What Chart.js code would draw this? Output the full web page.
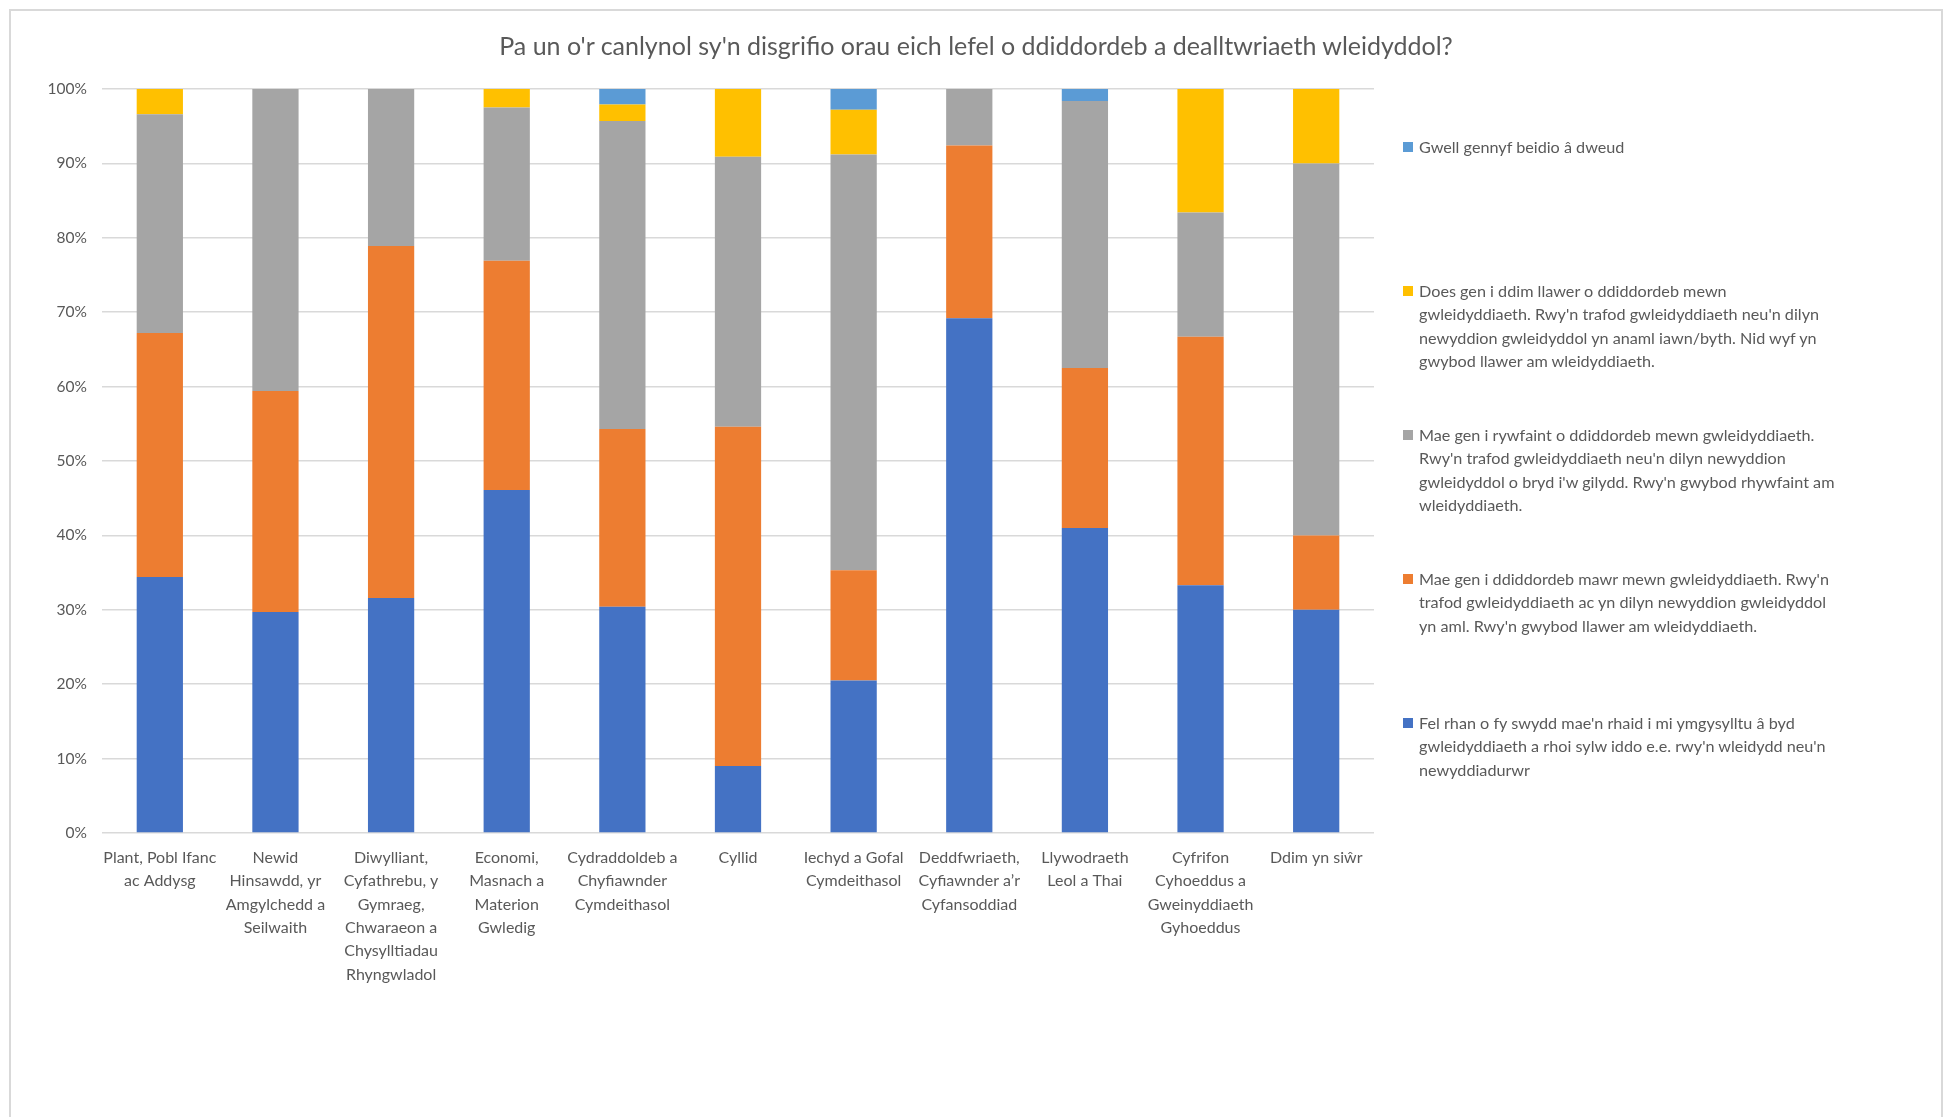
<!DOCTYPE html>
<html lang="cy">
<head>
  <meta charset="UTF-8">
  <title>Diddordeb mewn gwleidyddiaeth</title>
  <script src="https://cdn.jsdelivr.net/npm/chart.js"></script>
  <style>
    body { margin: 0; background: #fff; font-family: Lato, "Open Sans", sans-serif; }
    #frame { position: absolute; left: 9px; top: 9px; width: 1930px; height: 1200px;
             border: 2px solid #d9d9d9; border-bottom: none; }
    #wrap { position: absolute; left: 0; top: 0; width: 1945px; height: 1117px; }
    #title { position: absolute; left: 0; width: 1952px; top: 30px; text-align: center;
             color: #595959; font-size: 25px; line-height: 30px; white-space: nowrap; }
    #legend { position: absolute; left: 1403px; top: 0; width: 520px; }
    .item { position: absolute; left: 0; color: #595959; font-size: 16.2px; line-height: 23.4px; }
    .item i { position: absolute; left: 0; top: 7px; width: 10px; height: 10px; }
    .item span { display: block; padding-left: 16px; white-space: nowrap; }
  </style>
</head>
<body>
<div id="frame"></div>
<div id="wrap">
  <canvas id="chart" width="1945" height="1117"></canvas>
  <div id="title"></div>
  <div id="legend"></div>
</div>

<script>
  const title = "Pa un o'r canlynol sy'n disgrifio orau eich lefel o ddiddordeb a dealltwriaeth wleidyddol?";

  const categories = [
    ["Plant, Pobl Ifanc", "ac Addysg"],
    ["Newid", "Hinsawdd, yr", "Amgylchedd a", "Seilwaith"],
    ["Diwylliant,", "Cyfathrebu, y", "Gymraeg,", "Chwaraeon a", "Chysylltiadau", "Rhyngwladol"],
    ["Economi,", "Masnach a", "Materion", "Gwledig"],
    ["Cydraddoldeb a", "Chyfiawnder", "Cymdeithasol"],
    ["Cyllid"],
    ["Iechyd a Gofal", "Cymdeithasol"],
    ["Deddfwriaeth,", "Cyfiawnder a\u2019r", "Cyfansoddiad"],
    ["Llywodraeth", "Leol a Thai"],
    ["Cyfrifon", "Cyhoeddus a", "Gweinyddiaeth", "Gyhoeddus"],
    ["Ddim yn si\u0175r"]
  ];

  // series names, split into the lines shown in the legend
  const nameEngage = ["Fel rhan o fy swydd mae'n rhaid i mi ymgysylltu \u00e2 byd",
    "gwleidyddiaeth a rhoi sylw iddo e.e. rwy'n wleidydd neu'n",
    "newyddiadurwr"];
  const nameHigh = ["Mae gen i ddiddordeb mawr mewn gwleidyddiaeth. Rwy'n",
    "trafod gwleidyddiaeth ac yn dilyn newyddion gwleidyddol",
    "yn aml. Rwy'n gwybod llawer am wleidyddiaeth."];
  const nameSome = ["Mae gen i rywfaint o ddiddordeb mewn gwleidyddiaeth.",
    "Rwy'n trafod gwleidyddiaeth neu'n dilyn newyddion",
    "gwleidyddol o bryd i'w gilydd. Rwy'n gwybod rhywfaint am",
    "wleidyddiaeth."];
  const nameLow = ["Does gen i ddim llawer o ddiddordeb mewn",
    "gwleidyddiaeth. Rwy'n trafod gwleidyddiaeth neu'n dilyn",
    "newyddion gwleidyddol yn anaml iawn/byth. Nid wyf yn",
    "gwybod llawer am wleidyddiaeth."];
  const nameNoSay = ["Gwell gennyf beidio \u00e2 dweud"];

  // percentages
  const engage = [34.4, 29.7, 31.6, 46.1, 30.4, 9.0, 20.5, 69.2, 41.0, 33.3, 30.0];
  const high   = [32.8, 29.7, 47.3, 30.8, 23.9, 45.6, 14.8, 23.2, 21.5, 33.4, 10.0];
  const some   = [29.4, 40.6, 21.1, 20.6, 41.4, 36.3, 55.9, 7.6, 35.9, 16.7, 50.0];
  const low    = [3.4, 0, 0, 2.5, 2.2, 9.1, 6.0, 0, 0, 16.6, 10.0];
  const noSay  = [0, 0, 0, 0, 2.1, 0, 2.8, 0, 1.6, 0, 0];

  const yTicks = [0, 10, 20, 30, 40, 50, 60, 70, 80, 90, 100];

  const textColor = '#595959';
  const font = 'Lato';

  const series = [
    { lines: nameEngage, data: engage, color: '#4472C4' },
    { lines: nameHigh, data: high, color: '#ED7D31' },
    { lines: nameSome, data: some, color: '#A5A5A5' },
    { lines: nameLow, data: low, color: '#FFC000' },
    { lines: nameNoSay, data: noSay, color: '#5B9BD5' }
  ];

  document.getElementById('title').textContent = title;

  const chart = new Chart(document.getElementById('chart'), {
    type: 'bar',
    data: {
      labels: categories,
      datasets: series.map(s => ({
        label: s.lines.join(' '),
        data: s.data,
        backgroundColor: s.color,
        borderWidth: 0,
        barPercentage: 0.4,
        categoryPercentage: 1
      }))
    },
    options: {
      responsive: false,
      animation: false,
      layout: { padding: { left: 20, right: 571, top: 89, bottom: 0 } },
      plugins: {
        legend: { display: false },
        tooltip: { enabled: false }
      },
      scales: {
        x: {
          stacked: true,
          grid: { display: false, drawTicks: false },
          border: { display: false },
          ticks: {
            color: textColor,
            font: { family: font, size: 16, lineHeight: 1.46 },
            padding: 13,
            maxRotation: 0,
            autoSkip: false
          },
          afterFit: s => { s.height = 284; }
        },
        y: {
          stacked: true,
          min: 0,
          max: 100,
          afterBuildTicks: s => { s.ticks = yTicks.map(v => ({ value: v })); },
          grid: { color: '#d9d9d9', lineWidth: 1.5, drawTicks: false },
          border: { display: false },
          ticks: {
            color: textColor,
            font: { family: font, size: 15.5 },
            padding: 15,
            callback: v => v + '%'
          },
          afterFit: s => { s.width = 82; }
        }
      }
    }
  });

  // legend on the right, top entry = top of the stack
  const legend = document.getElementById('legend');
  series.slice().reverse().forEach((s, i) => {
    const item = document.createElement('div');
    item.className = 'item';
    item.style.top = (135 + i * 144) + 'px';
    const box = document.createElement('i');
    box.style.background = s.color;
    item.appendChild(box);
    s.lines.forEach(line => {
      const span = document.createElement('span');
      span.textContent = line;
      item.appendChild(span);
    });
    legend.appendChild(item);
  });
</script>
</body>
</html>
